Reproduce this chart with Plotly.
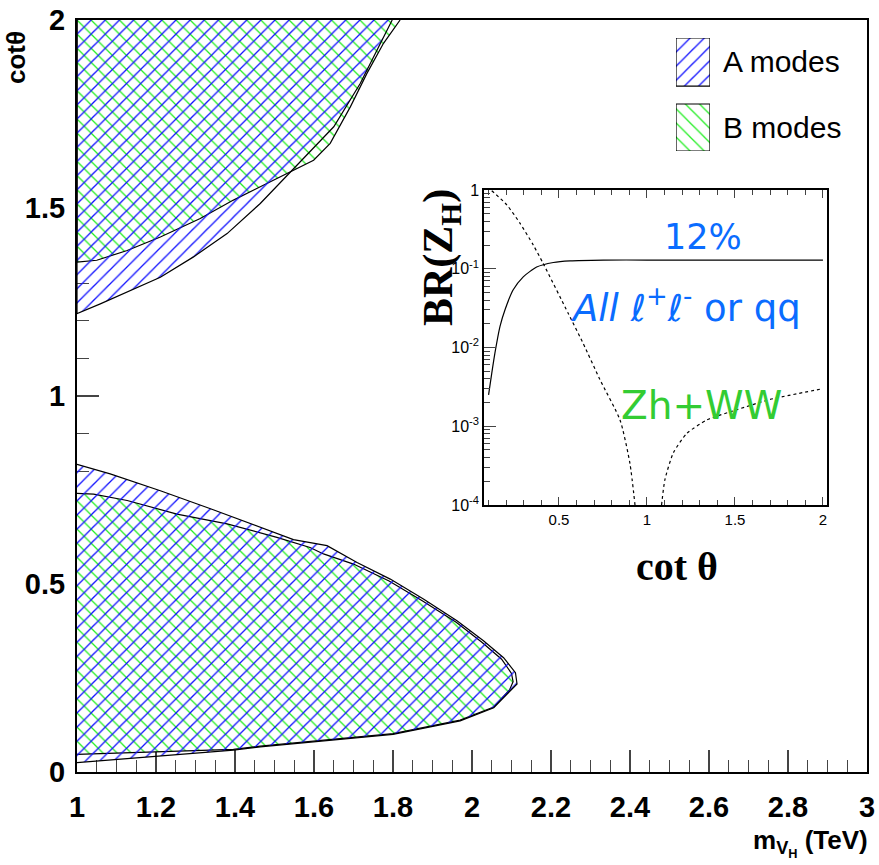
import plotly.graph_objects as go

# ---------------- main plot data (m_VH in TeV, cot theta) ----------------
A_upper_m = [1.0, 1.059, 1.143, 1.211, 1.295, 1.38, 1.464, 1.548, 1.65, 1.717, 1.793, 1.798]
A_upper_c = [1.219, 1.245, 1.285, 1.316, 1.37, 1.432, 1.512, 1.605, 1.716, 1.831, 1.991, 2.0]

B_upper_m = [1.0, 1.05, 1.127, 1.211, 1.312, 1.396, 1.481, 1.548, 1.599, 1.641, 1.692, 1.734, 1.776, 1.818]
B_upper_c = [1.356, 1.361, 1.387, 1.423, 1.472, 1.521, 1.565, 1.60, 1.627, 1.672, 1.769, 1.858, 1.938, 2.0]

A_lower_m = [1.0, 1.1, 1.2, 1.3, 1.396, 1.464, 1.633, 1.80, 1.97, 2.055, 2.097, 2.114, 2.11, 2.08,
             2.029, 1.962, 1.877, 1.793, 1.709, 1.633, 1.548, 1.464, 1.338, 1.211, 1.084, 1.0]
A_lower_c = [0.025, 0.033, 0.041, 0.05, 0.058, 0.067, 0.083, 0.10, 0.136, 0.171, 0.216, 0.234, 0.264, 0.304,
             0.349, 0.402, 0.46, 0.513, 0.557, 0.602, 0.618, 0.651, 0.70, 0.748, 0.793, 0.818]

B_lower_m = [1.0, 1.1, 1.2, 1.3, 1.396, 1.464, 1.633, 1.80, 1.97, 2.055, 2.095, 2.104, 2.10, 2.075,
             2.025, 1.96, 1.875, 1.79, 1.70, 1.624, 1.59, 1.506, 1.38, 1.253, 1.127, 1.042, 1.0]
B_lower_c = [0.047, 0.05, 0.053, 0.056, 0.06, 0.069, 0.085, 0.102, 0.138, 0.173, 0.218, 0.24, 0.262, 0.30,
             0.345, 0.398, 0.455, 0.508, 0.553, 0.58, 0.597, 0.624, 0.66, 0.686, 0.722, 0.739, 0.741]

legend_names = ["A modes", "B modes"]

# ---------------- inset data (cot theta, BR) ----------------
inset_solid_cot = [0.1, 0.118, 0.136, 0.165, 0.193, 0.24, 0.297, 0.373, 0.468, 0.563, 0.752, 1.0, 1.5, 2.0]
inset_solid_br = [2.5e-3, 4.7e-3, 8.5e-3, 0.0186, 0.030, 0.054, 0.079, 0.105, 0.120, 0.126, 0.129, 0.129, 0.129, 0.129]

inset_dot1_cot = [0.118, 0.203, 0.278, 0.354, 0.41, 0.553, 0.638, 0.733, 0.847, 0.903, 0.932]
inset_dot1_br = [0.98, 0.65, 0.38, 0.20, 0.117, 0.027, 0.0112, 0.0039, 0.0012, 0.00034, 0.0001]

inset_dot2_cot = [1.083, 1.102, 1.15, 1.226, 1.34, 1.51, 1.70, 2.0]
inset_dot2_br = [1.0e-4, 2.1e-4, 4.6e-4, 8.1e-4, 1.2e-3, 1.62e-3, 2.19e-3, 3.0e-3]

inset_ytick_vals = [1e-4, 1e-3, 1e-2, 1e-1, 1]
inset_ytick_text = ["10<sup>-4</sup>", "10<sup>-3</sup>", "10<sup>-2</sup>", "10<sup>-1</sup>", "1"]

BLUE = "#1010ff"
GREEN = "#22ee22"

W, H = 879, 865
ML, MR, MT, MB = 77, 12, 20, 93
PW, PH = W - ML - MR, H - MT - MB


def xp(px):
    return (px - ML) / PW


def yp(py):
    return (H - MB - py) / PH


fig = go.Figure()


def region(m, c, shape, color, bg, xa="x", ya="y"):
    fig.add_trace(go.Scatter(
        x=m, y=c, mode="lines", fill="toself", fillcolor=bg,
        fillpattern=dict(shape=shape, fgcolor=color, bgcolor=bg, fgopacity=1,
                         size=10, solidity=0.13),
        line=dict(color="black", width=1.2), showlegend=False, hoverinfo="skip",
        xaxis=xa, yaxis=ya))


# B modes (green "\") and A modes (blue "/")
region([1.0] + B_upper_m, [2.0] + B_upper_c, "\\", GREEN, "white")
region(B_lower_m, B_lower_c, "\\", GREEN, "white")
region([1.0] + A_upper_m, [2.0] + A_upper_c, "/", BLUE, "rgba(0,0,0,0)")
region(A_lower_m, A_lower_c, "/", BLUE, "rgba(0,0,0,0)")

# legend swatches on their own small axis
region([0, 1, 1, 0, 0], [0.575, 0.575, 1, 1, 0.575], "/", BLUE, "white", "x3", "y3")
region([0, 1, 1, 0, 0], [0, 0, 0.416, 0.416, 0], "\\", GREEN, "white", "x3", "y3")

# inset curves
fig.add_trace(go.Scatter(x=inset_solid_cot, y=inset_solid_br, mode="lines",
                         line=dict(color="black", width=1.2, shape="spline", smoothing=0.6),
                         showlegend=False, xaxis="x2", yaxis="y2"))
fig.add_trace(go.Scatter(x=inset_dot1_cot, y=inset_dot1_br, mode="lines",
                         line=dict(color="black", width=1.2, dash="dot", shape="spline", smoothing=0.6),
                         showlegend=False, xaxis="x2", yaxis="y2"))
fig.add_trace(go.Scatter(x=inset_dot2_cot, y=inset_dot2_br, mode="lines",
                         line=dict(color="black", width=1.2, dash="dot", shape="spline", smoothing=0.6),
                         showlegend=False, xaxis="x2", yaxis="y2"))

tickfont_main = dict(family="Liberation Sans", size=29, color="black", weight="bold")

inset_minor_y = [k * 10 ** e for e in range(-4, 0) for k in range(2, 10)]
inset_minor_x = [round(0.1 * k, 1) for k in range(1, 21) if k % 5 != 0]

fig.update_layout(
    width=W, height=H,
    margin=dict(l=ML, r=MR, t=MT, b=MB),
    paper_bgcolor="white", plot_bgcolor="white",
    xaxis=dict(range=[1, 3], tick0=1, dtick=0.2, ticks="inside", ticklen=22, tickwidth=1.5,
               showline=True, linecolor="black", linewidth=2, mirror=True, automargin=False,
               showgrid=False, zeroline=False, tickfont=tickfont_main, ticklabelstandoff=8,
               layer="below traces",
               minor=dict(dtick=0.05, ticks="inside", ticklen=12, tickwidth=1.2, showgrid=False),
               domain=[0, 1], anchor="y"),
    yaxis=dict(range=[0, 2], tick0=0, dtick=0.5, ticks="inside", ticklen=22, tickwidth=1.5,
               showline=True, linecolor="black", linewidth=2, mirror=True, automargin=False,
               showgrid=False, zeroline=False, tickfont=tickfont_main, ticklabelstandoff=4,
               layer="below traces",
               minor=dict(dtick=0.1, ticks="inside", ticklen=12, tickwidth=1.2, showgrid=False),
               domain=[0, 1], anchor="x"),
    xaxis2=dict(domain=[xp(484), xp(827)], anchor="y2", range=[0.074, 2.023],
                tickvals=[0.5, 1, 1.5, 2], ticktext=["0.5", "1", "1.5", "2"],
                ticks="inside", ticklen=8, tickwidth=1, mirror="allticks", automargin=False,
                showline=True, linecolor="black", linewidth=1.5, showgrid=False, zeroline=False,
                tickfont=dict(family="Liberation Sans", size=15, color="black"),
                minor=dict(tickvals=inset_minor_x, ticks="inside", ticklen=5, tickwidth=1, showgrid=False)),
    yaxis2=dict(domain=[yp(505), yp(190)], anchor="x2", type="log", range=[-4, 0],
                tickvals=inset_ytick_vals, ticktext=inset_ytick_text, automargin=False,
                ticks="inside", ticklen=12, tickwidth=1, mirror=True,
                showline=True, linecolor="black", linewidth=1.5, showgrid=False, zeroline=False,
                tickfont=dict(family="Liberation Sans", size=16, color="black"),
                minor=dict(tickvals=inset_minor_y, ticks="inside", ticklen=6, tickwidth=1, showgrid=False)),
    xaxis3=dict(domain=[xp(676), xp(710)], anchor="y3", range=[0, 1], visible=False, fixedrange=True),
    yaxis3=dict(domain=[yp(151), yp(38)], anchor="x3", range=[0, 1], visible=False, fixedrange=True),
    showlegend=False,
)

ann = [
    # axis titles
    dict(x=xp(870), y=yp(843), text="<b>m<sub>V<sub>H</sub></sub> (TeV)</b>", xanchor="right", yanchor="middle",
         font=dict(family="Liberation Sans", size=26, color="black")),
    dict(x=xp(16), y=yp(58), text="<b>cotθ</b>", textangle=-90, xanchor="center", yanchor="middle",
         font=dict(family="Liberation Sans", size=26, color="black")),
    # legend texts
    dict(x=xp(721), y=yp(61), text=legend_names[0], xanchor="left", yanchor="middle",
         font=dict(family="Liberation Sans", size=30, color="black")),
    dict(x=xp(721), y=yp(128), text=legend_names[1], xanchor="left", yanchor="middle",
         font=dict(family="Liberation Sans", size=30, color="black")),
    # inset texts
    dict(x=xp(703), y=yp(237), text="12%", xanchor="center", yanchor="middle",
         font=dict(family="DejaVu Sans", size=35, color="#0a6cff")),
    dict(x=xp(686), y=yp(305), text="<i>All</i> <i>ℓ</i><sup>+</sup><i>ℓ</i><sup>-</sup> or qq",
         xanchor="center", yanchor="middle",
         font=dict(family="DejaVu Sans", size=37, color="#0a6cff")),
    dict(x=xp(701), y=yp(405), text="Zh+WW", xanchor="center", yanchor="middle",
         font=dict(family="DejaVu Sans", size=39, color="#33cc33")),
    dict(x=xp(441), y=yp(258), text="<b>BR(Z<sub>H</sub>)</b>", textangle=-90, xanchor="center", yanchor="middle",
         font=dict(family="Liberation Serif", size=42, color="black")),
    dict(x=xp(677), y=yp(566), text="<b>cot θ</b>", xanchor="center", yanchor="middle",
         font=dict(family="Liberation Serif", size=40, color="black")),
]
for a in ann:
    a.update(xref="paper", yref="paper", showarrow=False)
fig.update_layout(annotations=ann)

fig.write_html("out.html")
